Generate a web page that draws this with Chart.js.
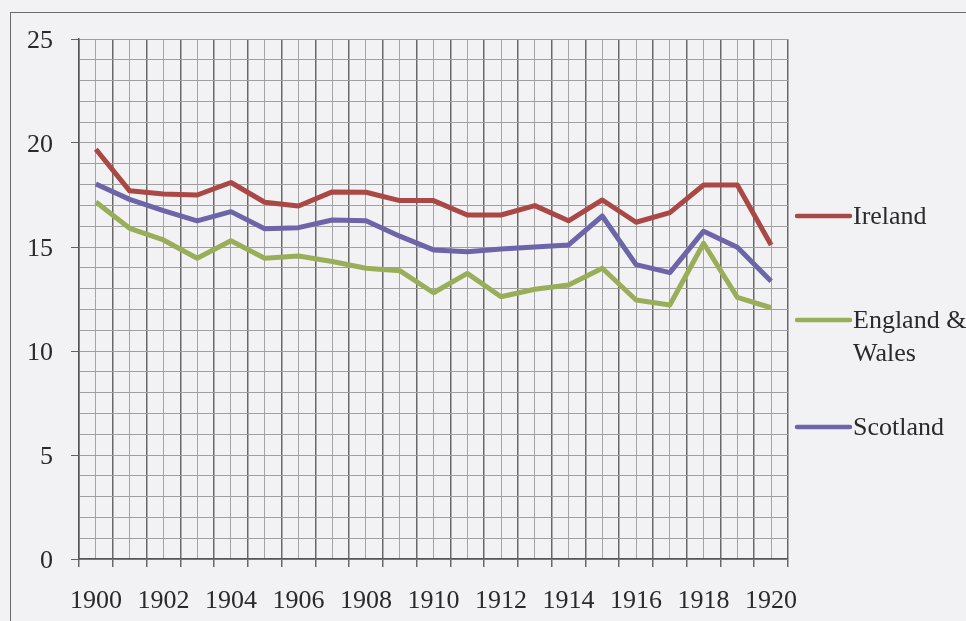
<!DOCTYPE html>
<html>
<head>
<meta charset="utf-8">
<script src="https://cdn.jsdelivr.net/npm/chart.js@4/dist/chart.umd.min.js"></script>
<style>
  html, body { margin: 0; padding: 0; background: #f2f2f5; overflow: hidden; }
  #frame { position: absolute; left: 10px; top: 12px; width: 2000px; height: 2000px;
           border-left: 1.5px solid #6a6a6a; border-top: 1.5px solid #6a6a6a; }
  #wrap { position: absolute; left: 0; top: 0; width: 966px; height: 621px; }
</style>
</head>
<body>
<div id="frame"></div>
<div id="wrap"><canvas id="c" width="966" height="621"></canvas></div>
<script>
// ---- data ----
const years = [1900,1901,1902,1903,1904,1905,1906,1907,1908,1909,1910,
               1911,1912,1913,1914,1915,1916,1917,1918,1919,1920];
const ireland  = [19.7,17.7,17.55,17.5,18.1,17.15,16.97,17.65,17.63,17.23,17.23,
                  16.54,16.54,16.99,16.26,17.26,16.19,16.65,17.98,17.98,15.1];
const england  = [17.16,15.9,15.34,14.46,15.3,14.46,14.57,14.3,13.98,13.86,12.8,
                  13.73,12.61,12.97,13.17,13.98,12.45,12.21,15.18,12.58,12.08];
const scotland = [18.03,17.29,16.75,16.26,16.7,15.88,15.93,16.3,16.26,15.52,14.86,
                  14.77,14.9,15.0,15.1,16.49,14.15,13.77,15.76,14.99,13.35];
const seriesNames = ['Ireland', 'England &\nWales', 'Scotland'];
const xTickLabels = ['1900','1902','1904','1906','1908','1910','1912','1914','1916','1918','1920'];
const yTickLabels = ['0','5','10','15','20','25'];

const FONT = '"Liberation Serif", "DejaVu Serif", serif';
const FSIZE = 26;
const colRed = '#aa4845', colGreen = '#9aae5a', colBlue = '#6c65a8';
const darkGrid = '#686868', lightGrid = '#a4a4a4', hGrid = '#9f9f9f';
const textCol = '#2a2a2a';

const toPts = arr => years.map((y, i) => ({x: y, y: arr[i]}));

const legendPlugin = {
  id: 'sideLegend',
  afterDraw(chart) {
    const {ctx, chartArea} = chart;
    const mid = (chartArea.top + chartArea.bottom) / 2;
    const offsets = [-83, 21, 128];
    ctx.save();
    ctx.font = FSIZE + 'px ' + FONT;
    ctx.textBaseline = 'middle';
    ctx.fillStyle = textCol;
    chart.data.datasets.forEach((ds, i) => {
      const y = mid + offsets[i];
      const x0 = chartArea.right + 9;
      ctx.strokeStyle = ds.borderColor;
      ctx.lineWidth = 4.5;
      ctx.lineCap = 'round';
      ctx.beginPath(); ctx.moveTo(x0, y); ctx.lineTo(x0 + 53, y); ctx.stroke();
      ds.label.split('\n').forEach((t, k) => ctx.fillText(t, x0 + 56, y + 1 + k * 33));
    });
    ctx.restore();
  }
};

new Chart(document.getElementById('c'), {
  type: 'line',
  data: {
    datasets: [
      { label: seriesNames[0], data: toPts(ireland),  borderColor: colRed },
      { label: seriesNames[1], data: toPts(england),  borderColor: colGreen },
      { label: seriesNames[2], data: toPts(scotland), borderColor: colBlue }
    ]
  },
  options: {
    responsive: false,
    animation: false,
    devicePixelRatio: 1,
    layout: { padding: { left: 0, top: 39, right: 178, bottom: 0 } },
    elements: {
      line: { borderWidth: 5, tension: 0, borderJoinStyle: 'round', fill: false },
      point: { radius: 0, hoverRadius: 0 }
    },
    plugins: { legend: { display: false }, tooltip: { enabled: false } },
    scales: {
      x: {
        type: 'linear',
        min: years[0] - 0.5,
        max: years[years.length - 1] + 0.5,
        afterFit(s) { s.height = 62; },
        border: { color: '#555555', width: 1.5 },
        grid: {
          color: c => Number.isInteger(c.tick.value) ? lightGrid : darkGrid,
          lineWidth: c => Number.isInteger(c.tick.value) ? 1 : 1.5,
          tickColor: c => Number.isInteger(c.tick.value) ? 'rgba(0,0,0,0)' : darkGrid,
          tickLength: 8
        },
        ticks: {
          stepSize: 0.5,
          autoSkip: false,
          maxRotation: 0,
          padding: 19,
          color: textCol,
          font: { family: FONT, size: FSIZE },
          callback: v => xTickLabels.includes(String(v)) ? String(v) : ''
        }
      },
      y: {
        min: 0,
        max: 25,
        afterFit(s) { s.width = 79; },
        border: { color: '#555555', width: 1.5 },
        grid: {
          color: hGrid,
          lineWidth: 1,
          tickColor: c => yTickLabels.includes(String(c.tick.value)) ? '#626262' : 'rgba(0,0,0,0)',
          tickLength: 8
        },
        ticks: {
          stepSize: 1,
          autoSkip: false,
          padding: 18,
          labelOffset: 2,
          color: textCol,
          font: { family: FONT, size: FSIZE },
          callback: v => yTickLabels.includes(String(v)) ? String(v) : ''
        }
      }
    }
  },
  plugins: [legendPlugin]
});
</script>
</body>
</html>
